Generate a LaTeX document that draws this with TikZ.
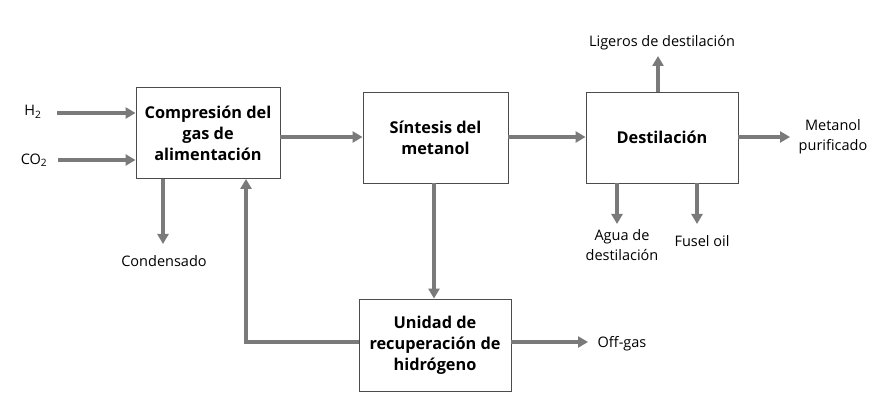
\documentclass[tikz,border=0pt]{standalone}
\usepackage{fontspec}
\setmainfont{Open Sans}[BoldFont={* Bold}]
\usetikzlibrary{arrows.meta}
\begin{document}
\begin{tikzpicture}[x=1pt,y=-1pt,
  proc/.style={draw=black!70,line width=0.9pt,fill=white,align=center,font=\bfseries\fontsize{16.3}{21}\selectfont,inner sep=0pt},
  lbl/.style={align=center,font=\fontsize{14.5}{20}\selectfont,inner sep=0pt},
  flow/.style={draw=black!52,line width=3.8pt,-{Triangle[length=10pt,width=11pt]}}]
\fill[white] (0,0) rectangle (886,419);
\useasboundingbox (0,0) rectangle (886,419);
% boxes
\node[proc,minimum width=144pt,minimum height=91pt] (comp) at (208,133) {Compresión del\\gas de\\alimentación};
\node[proc,minimum width=145pt,minimum height=91pt] (sint) at (435.5,137.5) {Síntesis del\\metanol};
\node[proc,minimum width=152pt,minimum height=91pt] (dest) at (662,137.5) {Destilación};
\node[proc,minimum width=152pt,minimum height=92pt] (unid) at (435,345) {Unidad de\\recuperación de\\hidrógeno};
% labels
\node[lbl] (h2) at (33,112) {H\textsubscript{2}};
\node[lbl] (co2) at (34,160) {CO\textsubscript{2}};
\node[lbl] (cond) at (164,261) {Condensado};
\node[lbl] (off) at (622,344) {Off-gas};
\node[lbl] (lig) at (662,43) {Ligeros de destilación};
\node[lbl] (met) at (833,137) {Metanol\\purificado};
\node[lbl] (agua) at (622,245) {Agua de\\destilación};
\node[lbl] (fusel) at (702,241) {Fusel oil};
% coordinates
\coordinate (h2s) at (57,113);
\coordinate (co2s) at (58,160);
\coordinate (conde) at (163,244);
\coordinate (offe) at (588,342);
\coordinate (lige) at (658,56);
\coordinate (mete) at (790,137);
\coordinate (aguae) at (617,224);
\coordinate (fusele) at (697,224);
\coordinate (rc1) at (246,342);
% flows
\draw[flow] (h2s) -- (h2s -| comp.west);
\draw[flow] (co2s) -- (co2s -| comp.west);
\draw[flow] (comp.east |- 0,137) -- (sint.west |- 0,137);
\draw[flow] (sint.east |- 0,137) -- (dest.west |- 0,137);
\draw[flow] (dest.east |- 0,137) -- (mete);
\draw[flow] (lige |- dest.north) -- (lige);
\draw[flow] (aguae |- dest.south) -- (aguae);
\draw[flow] (fusele |- dest.south) -- (fusele);
\draw[flow] (conde |- comp.south) -- (conde);
\draw[flow] (434,0 |- sint.south) -- (434,0 |- unid.north);
\draw[flow] (unid.east |- offe) -- (offe);
\draw[flow] (unid.west |- rc1) -- (rc1) -- (rc1 |- comp.south);
\end{tikzpicture}
\end{document}
